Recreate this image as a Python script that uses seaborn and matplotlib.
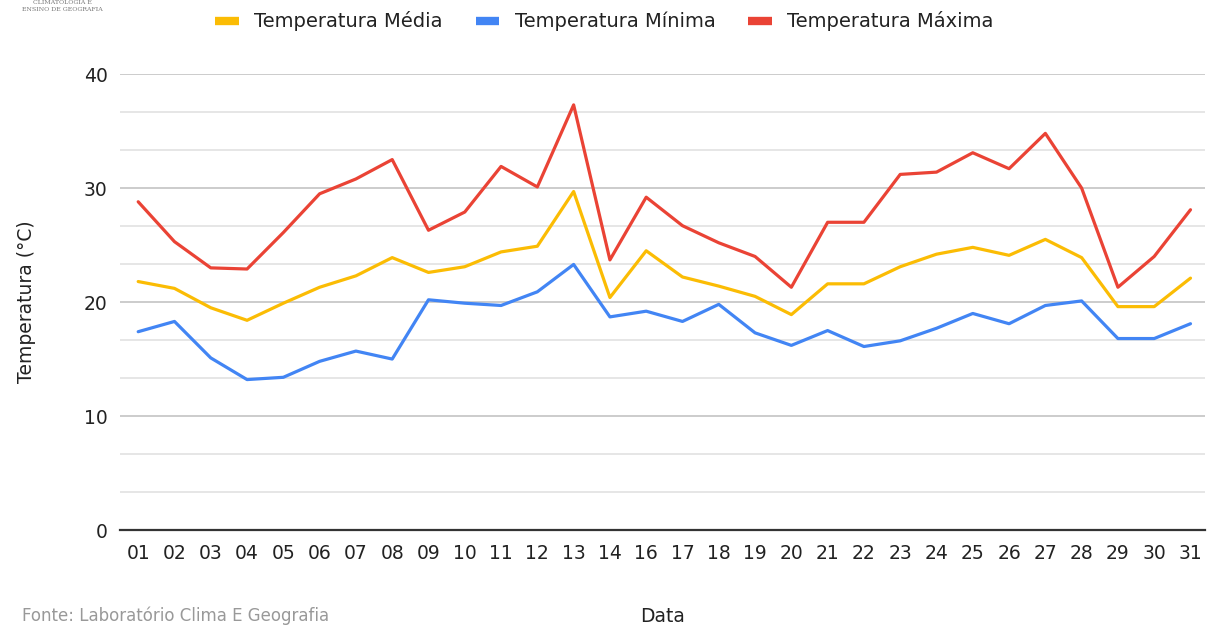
import pandas as pd
import matplotlib.pyplot as plt
import seaborn as sns

# Dados (leitura aproximada do grafico)
dias = ['01', '02', '03', '04', '05', '06', '07', '08', '09', '10', '11', '12', '13', '14',
        '16', '17', '18', '19', '20', '21', '22', '23', '24', '25', '26', '27', '28', '29', '30', '31']
t_media = [21.8, 21.2, 19.5, 18.4, 19.9, 21.3, 22.3, 23.9, 22.6, 23.1, 24.4, 24.9, 29.7, 20.4,
           24.5, 22.2, 21.4, 20.5, 18.9, 21.6, 21.6, 23.1, 24.2, 24.8, 24.1, 25.5, 23.9, 19.6, 19.6, 22.1]
t_minima = [17.4, 18.3, 15.1, 13.2, 13.4, 14.8, 15.7, 15.0, 20.2, 19.9, 19.7, 20.9, 23.3, 18.7,
            19.2, 18.3, 19.8, 17.3, 16.2, 17.5, 16.1, 16.6, 17.7, 19.0, 18.1, 19.7, 20.1, 16.8, 16.8, 18.1]
t_maxima = [28.8, 25.3, 23.0, 22.9, 26.1, 29.5, 30.8, 32.5, 26.3, 27.9, 31.9, 30.1, 37.3, 23.7,
            29.2, 26.7, 25.2, 24.0, 21.3, 27.0, 27.0, 31.2, 31.4, 33.1, 31.7, 34.8, 30.0, 21.3, 24.0, 28.1]
series = ['Temperatura Média', 'Temperatura Mínima', 'Temperatura Máxima']
cores = {'Temperatura Média': '#FBBC04', 'Temperatura Mínima': '#4285F4', 'Temperatura Máxima': '#EA4335'}

df = pd.DataFrame({'Data': dias, series[0]: t_media, series[1]: t_minima, series[2]: t_maxima})
df = df.melt(id_vars='Data', var_name='Serie', value_name='Temperatura')

sns.set_style('white')
plt.rcParams['font.family'] = ['DejaVu Sans']

fig = plt.figure(figsize=(12.09, 6.28), dpi=100)
ax = fig.add_axes([0.0993, 0.156, 0.8974, 0.726])

sns.lineplot(data=df, x='Data', y='Temperatura', hue='Serie', hue_order=series,
             palette=cores, sort=False, linewidth=2.3, ax=ax)

ax.set_ylim(0, 40)
ax.set_xlim(-0.5, len(dias) - 0.6)
ax.set_yticks([0, 10, 20, 30, 40])
ax.set_yticks([v * 10 / 3 for v in range(13)], minor=True)
ax.yaxis.grid(True, which='major', color='#cccccc', linewidth=1.4)
ax.yaxis.grid(True, which='minor', color='#e6e6e6', linewidth=1.4)
ax.set_axisbelow(True)
ax.tick_params(axis='both', which='both', length=0, labelsize=13.5, colors='#222222')
ax.tick_params(axis='y', pad=9)
ax.tick_params(axis='x', pad=10)
for s in ['left', 'right', 'top']:
    ax.spines[s].set_visible(False)
ax.spines['bottom'].set_color('#333333')
ax.spines['bottom'].set_linewidth(1.6)

ax.set_xlabel('Data', fontsize=13.5, color='#222222', labelpad=32)
ax.set_ylabel('Temperatura (°C)', fontsize=13.5, color='#222222', labelpad=34)

handles, labels = ax.get_legend_handles_labels()
ax.get_legend().remove()
leg = fig.legend(handles, labels, loc='center', bbox_to_anchor=(0.5, 0.966), ncol=3,
                 frameon=False, fontsize=14, handlelength=1.2, handletextpad=0.8,
                 columnspacing=1.7)
for h in leg.legend_handles:
    h.set_linewidth(6)
    h.set_solid_capstyle('butt')
for t in leg.get_texts():
    t.set_color('#222222')

# logotipo e fonte
fig.text(0.052, 0.996, 'CLIMATOLOGIA E', fontsize=4.5, family='DejaVu Serif',
         color='#777777', ha='center', va='center')
fig.text(0.052, 0.985, 'ENSINO DE GEOGRAFIA', fontsize=4.5, family='DejaVu Serif',
         color='#777777', ha='center', va='center')
fig.text(0.018, 0.004, 'Fonte: Laboratório Clima E Geografia', fontsize=12,
         color='#999999', ha='left', va='bottom')

fig.savefig('out.png', dpi=100)
